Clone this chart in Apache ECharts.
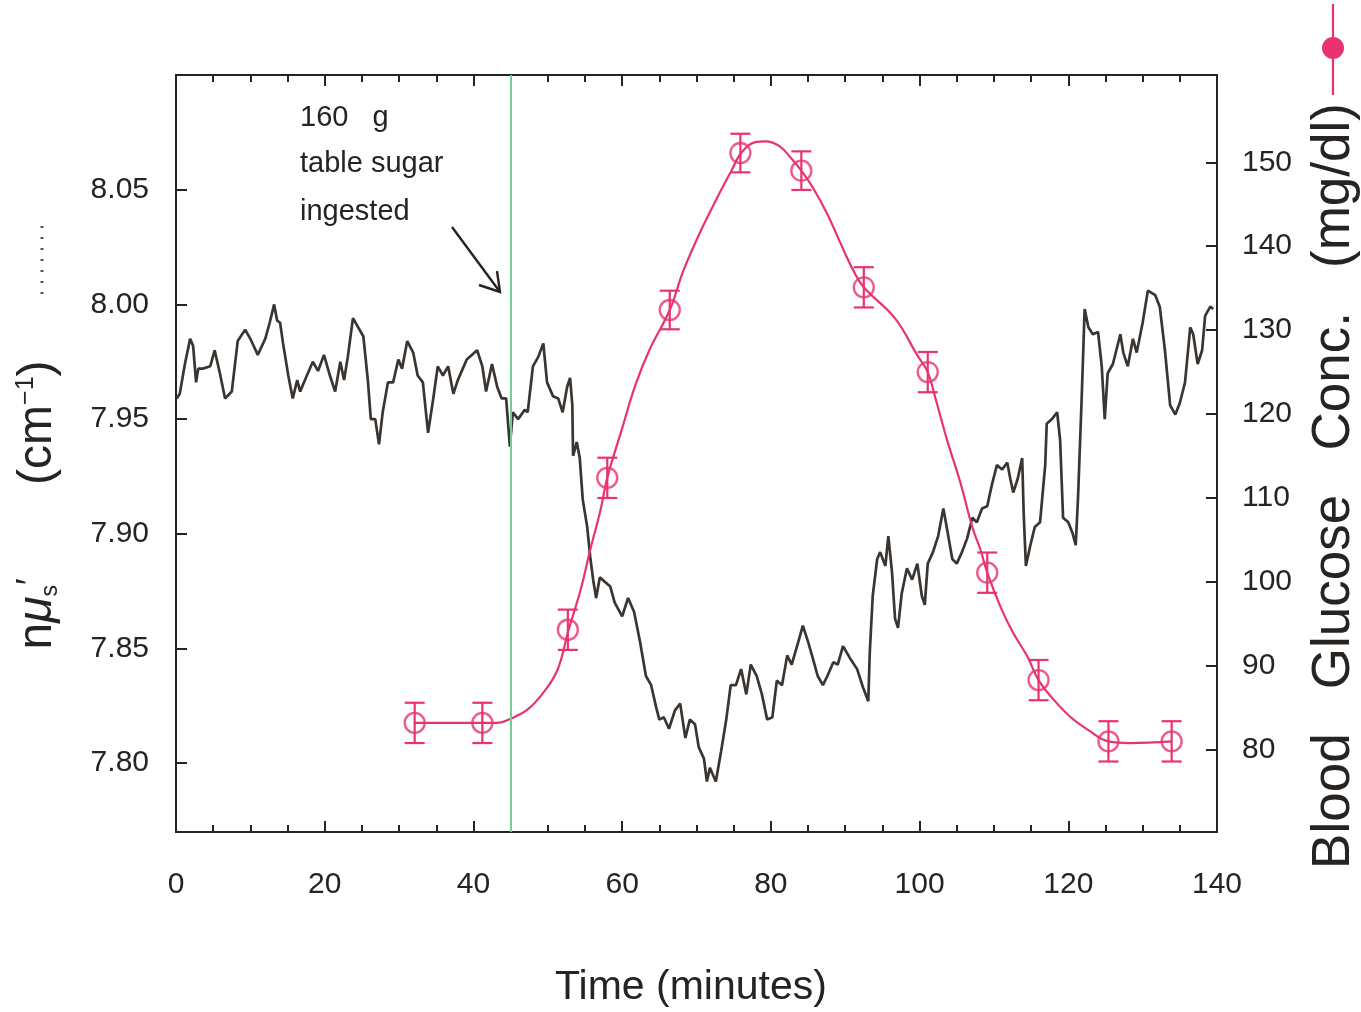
<!DOCTYPE html>
<html>
<head>
<meta charset="utf-8">
<script src="https://cdn.jsdelivr.net/npm/echarts@6/dist/echarts.min.js"></script>
<style>
html,body{margin:0;padding:0;background:#fff;}
#chart{width:1361px;height:1012px;}
</style>
</head>
<body>
<div id="chart"></div>
<script>
// ---- DATA ----
// Scattering trace n*mu_s' (cm^-1) vs time (minutes): [time, value]
const scatterTrace = [
[0.1,7.959],[0.5,7.961],[1.2,7.974],[1.9,7.985],[2.3,7.982],[2.7,7.966],[3.0,7.972],[3.6,7.972],[4.6,7.973],[5.2,7.980],
[5.9,7.970],[6.6,7.959],[7.5,7.962],[8.3,7.984],[9.3,7.989],[10.0,7.985],[11.0,7.978],[12.0,7.985],[12.6,7.992],[13.2,8.000],
[13.6,7.993],[14.0,7.992],[14.4,7.983],[15.1,7.969],[15.7,7.959],[16.3,7.967],[16.7,7.962],[17.6,7.969],[18.4,7.975],[19.1,7.971],
[19.9,7.978],[20.7,7.969],[21.4,7.962],[22.1,7.975],[22.6,7.967],[23.1,7.977],[23.8,7.994],[24.5,7.990],[25.2,7.986],[25.8,7.967],
[26.2,7.950],[26.8,7.950],[27.3,7.939],[27.8,7.953],[28.5,7.966],[29.2,7.966],[29.9,7.976],[30.4,7.972],[31.1,7.984],[31.9,7.979],
[32.5,7.969],[33.2,7.966],[33.9,7.944],[34.6,7.959],[35.2,7.973],[35.9,7.969],[36.6,7.973],[37.3,7.961],[37.9,7.967],[39.1,7.976],
[40.5,7.980],[41.2,7.973],[41.7,7.962],[42.5,7.974],[43.2,7.964],[43.8,7.959],[44.4,7.959],[44.9,7.938],[45.3,7.953],[46.0,7.950],
[46.9,7.954],[47.3,7.953],[48.0,7.973],[48.7,7.977],[49.4,7.983],[49.9,7.966],[50.7,7.960],[51.4,7.959],[52.0,7.953],[52.6,7.964],
[53.0,7.968],[53.3,7.956],[53.4,7.934],[53.9,7.940],[54.3,7.933],[54.7,7.915],[55.3,7.903],[55.7,7.890],[56.1,7.880],[56.5,7.872],
[57.0,7.881],[57.7,7.879],[58.4,7.877],[59.0,7.870],[60.0,7.864],[60.8,7.872],[61.6,7.866],[62.4,7.853],[63.2,7.838],[63.9,7.834],
[64.6,7.824],[65.0,7.819],[65.6,7.820],[66.3,7.815],[67.1,7.823],[67.8,7.826],[68.5,7.811],[69.1,7.819],[69.8,7.817],[70.3,7.807],
[71.0,7.802],[71.4,7.792],[71.8,7.798],[72.6,7.792],[73.3,7.805],[74.0,7.819],[74.6,7.834],[75.3,7.834],[76.0,7.841],[76.7,7.830],
[77.3,7.843],[78.1,7.838],[78.8,7.830],[79.5,7.819],[80.2,7.820],[80.8,7.836],[81.5,7.834],[82.2,7.847],[82.8,7.843],[83.7,7.853],
[84.3,7.860],[85.0,7.853],[85.7,7.845],[86.3,7.838],[87.0,7.834],[87.6,7.838],[88.4,7.844],[89.0,7.843],[89.7,7.851],[90.6,7.846],
[91.6,7.841],[92.4,7.833],[93.1,7.827],[93.3,7.848],[93.7,7.873],[94.3,7.889],[94.7,7.892],[95.4,7.886],[95.8,7.899],[96.3,7.883],
[96.7,7.863],[97.1,7.859],[97.6,7.874],[98.3,7.885],[99.0,7.880],[99.7,7.887],[100.3,7.873],[100.7,7.869],[101.1,7.887],[101.8,7.892],
[102.5,7.899],[103.2,7.911],[103.7,7.902],[104.4,7.889],[105.0,7.887],[105.7,7.892],[106.4,7.898],[107.1,7.907],[107.7,7.905],[108.4,7.911],
[109.1,7.912],[109.7,7.921],[110.4,7.930],[111.1,7.928],[111.8,7.931],[112.2,7.924],[112.6,7.918],[113.2,7.924],[113.8,7.933],[114.0,7.909],
[114.3,7.886],[114.9,7.895],[115.5,7.903],[116.2,7.905],[116.9,7.930],[117.1,7.948],[117.8,7.950],[118.5,7.953],[118.9,7.941],[119.3,7.907],
[120.0,7.905],[120.6,7.900],[121.0,7.895],[121.3,7.915],[121.8,7.959],[122.2,7.998],[122.7,7.990],[123.3,7.987],[124.0,7.988],[124.5,7.973],
[124.9,7.950],[125.3,7.970],[126.0,7.974],[127.0,7.987],[127.4,7.979],[128.0,7.973],[128.7,7.985],[129.2,7.979],[130.0,7.992],[130.7,8.006],
[131.7,8.004],[132.3,7.999],[133.0,7.980],[133.7,7.956],[134.4,7.952],[135.0,7.957],[135.7,7.966],[136.4,7.990],[136.8,7.987],[137.4,7.974],
[138.0,7.980],[138.4,7.995],[139.1,7.999],[139.5,7.998]
];

// Blood glucose measurements (mg/dl): times, values, error (+/-)
const glucoseTimes  = [32.1, 41.2, 52.7, 58.0, 66.4, 75.9, 84.1, 92.5, 101.1, 109.1, 116.0, 125.4, 133.9];
const glucoseValues = [83.2, 83.2, 94.3, 112.4, 132.4, 151.1, 149.0, 135.1, 125.0, 101.1, 88.3, 81.0, 81.0];
const glucoseErrors = [2.4, 2.4, 2.4, 2.4, 2.3, 2.3, 2.3, 2.4, 2.4, 2.4, 2.4, 2.4, 2.4];

// Smooth glucose curve: [time, mg/dl]
const glucoseCurve = [
[32.1,83.2],[41.2,83.2],[43.2,83.2],[45.0,83.7],[47.3,84.8],[49.4,86.8],[51.3,89.5],[52.8,94.3],[54.4,99.0],[55.7,103.8],
[57.1,108.6],[58.0,112.4],[60.0,118.3],[61.8,123.5],[63.7,127.7],[66.4,132.4],[68.2,137.0],[70.5,141.7],[72.8,145.8],[74.7,149.0],
[76.0,151.1],[77.9,152.4],[79.3,152.5],[81.2,151.9],[82.9,150.3],[84.1,149.0],[85.7,146.9],[87.6,143.8],[89.8,139.5],[91.1,137.1],
[92.5,135.1],[96.7,131.4],[99.7,127.0],[101.1,125.0],[102.1,122.0],[103.7,116.9],[105.5,111.8],[107.1,106.5],[108.2,103.8],[109.1,101.1],
[110.9,97.0],[112.6,93.9],[114.5,91.1],[116.0,88.3],[118.0,86.0],[120.3,83.9],[122.6,82.4],[125.4,81.0],[128.3,80.8],[133.9,81.0]
];

// Ticks and annotation
const xTicks = [0, 20, 40, 60, 80, 100, 120, 140];
const leftTicks = [7.80, 7.85, 7.90, 7.95, 8.00, 8.05];
const rightTicks = [80, 90, 100, 110, 120, 130, 140, 150];
const ingestionTime = 45;
const annotationLines = ['160   g', 'table sugar', 'ingested'];

// ---- CHART ----
const FONT = '"Liberation Sans", Arial, Helvetica, sans-serif';
const INK = '#262321';
const PINK = '#e8336e';
const BLACK = '#3a3531';
const GREEN = '#72cf93';

const chart = echarts.init(document.getElementById('chart'), null, {renderer: 'canvas'});

const glucosePoints = glucoseTimes.map((t, i) => [t, glucoseValues[i], glucoseErrors[i]]);

const tickStyle = {color: INK, width: 2};
const option = {
  backgroundColor: '#ffffff',
  animation: false,
  grid: {left: 176, right: 144, top: 75, bottom: 180, show: true, borderColor: INK, borderWidth: 2, backgroundColor: 'transparent'},
  xAxis: [
    {
      type: 'value', min: 0, max: 140, interval: 20, position: 'bottom',
      axisLine: {show: true, onZero: false, lineStyle: tickStyle},
      axisTick: {show: true, inside: true, length: 11, lineStyle: tickStyle},
      minorTick: {show: true, splitNumber: 4, length: 7, lineStyle: tickStyle},
      axisLabel: {color: INK, fontSize: 30, fontFamily: FONT, margin: 38, customValues: xTicks},
      splitLine: {show: false}, minorSplitLine: {show: false}
    },
    {
      type: 'value', min: 0, max: 140, interval: 20, position: 'top',
      axisLine: {show: true, onZero: false, lineStyle: tickStyle},
      axisTick: {show: true, inside: true, length: 11, lineStyle: tickStyle},
      minorTick: {show: true, splitNumber: 4, length: 7, lineStyle: tickStyle},
      axisLabel: {show: false},
      splitLine: {show: false}
    }
  ],
  yAxis: [
    {
      type: 'value', min: 7.770, max: 8.100, position: 'left',
      axisLine: {show: true, onZero: false, lineStyle: tickStyle},
      axisTick: {show: true, inside: true, length: 11, lineStyle: tickStyle, customValues: leftTicks},
      axisLabel: {color: INK, fontSize: 30, fontFamily: FONT, margin: 27, customValues: leftTicks,
                  formatter: v => v.toFixed(2)},
      splitLine: {show: false}
    },
    {
      type: 'value', min: 70.2, max: 160.4, position: 'right',
      axisLine: {show: true, onZero: false, lineStyle: tickStyle},
      axisTick: {show: true, inside: true, length: 11, lineStyle: tickStyle, customValues: rightTicks},
      axisLabel: {color: INK, fontSize: 30, fontFamily: FONT, margin: 25, customValues: rightTicks},
      splitLine: {show: false}
    }
  ],
  series: [
    {
      name: 'scattering', type: 'line', xAxisIndex: 0, yAxisIndex: 0,
      data: scatterTrace, showSymbol: false, symbol: 'none',
      lineStyle: {color: BLACK, width: 2.7}, z: 3,
      markLine: {
        silent: true, symbol: ['none', 'none'], label: {show: false},
        lineStyle: {color: GREEN, width: 2, type: 'solid'},
        data: [{xAxis: ingestionTime}]
      }
    },
    {
      name: 'glucose fit', type: 'line', xAxisIndex: 0, yAxisIndex: 1,
      data: glucoseCurve, smooth: 0.4, showSymbol: false, symbol: 'none',
      lineStyle: {color: PINK, width: 2.2}, z: 4
    },
    {
      name: 'glucose err', type: 'custom', xAxisIndex: 0, yAxisIndex: 1,
      data: glucosePoints, z: 5,
      renderItem: function (params, api) {
        const x = api.value(0), y = api.value(1), e = api.value(2);
        const top = api.coord([x, y + e]);
        const bot = api.coord([x, y - e]);
        const hw = 10;
        const st = {stroke: PINK, lineWidth: 2.2};
        return {type: 'group', children: [
          {type: 'line', shape: {x1: top[0], y1: top[1], x2: bot[0], y2: bot[1]}, style: st},
          {type: 'line', shape: {x1: top[0] - hw, y1: top[1], x2: top[0] + hw, y2: top[1]}, style: st},
          {type: 'line', shape: {x1: bot[0] - hw, y1: bot[1], x2: bot[0] + hw, y2: bot[1]}, style: st}
        ]};
      },
      encode: {x: 0, y: 1}
    },
    {
      name: 'glucose', type: 'scatter', xAxisIndex: 0, yAxisIndex: 1,
      data: glucoseTimes.map((t, i) => [t, glucoseValues[i]]),
      symbol: 'circle', symbolSize: 20,
      itemStyle: {color: 'rgba(255,255,255,0)', borderColor: PINK, borderWidth: 2.4}, z: 6
    }
  ],
  graphic: [
    // annotation text
    {type: 'text', left: 300, top: 103, style: {text: annotationLines[0], font: '29px ' + FONT, fill: INK}},
    {type: 'text', left: 300, top: 149, style: {text: annotationLines[1], font: '29px ' + FONT, fill: INK}},
    {type: 'text', left: 300, top: 197, style: {text: annotationLines[2], font: '29px ' + FONT, fill: INK}},
    // arrow
    {type: 'line', shape: {x1: 452, y1: 227, x2: 500, y2: 292}, style: {stroke: INK, lineWidth: 2.4}},
    {type: 'polyline', shape: {points: [[479, 285], [500, 292], [497, 271]]}, style: {stroke: INK, lineWidth: 2.4, fill: null}},
    // left legend sample (dotted)
    {type: 'line', shape: {x1: 42, y1: 226, x2: 42, y2: 296}, style: {stroke: '#555', lineWidth: 3, lineDash: [2, 9]}},
    // right legend sample (pink line + dot)
    {type: 'line', shape: {x1: 1333, y1: 4, x2: 1333, y2: 95}, style: {stroke: PINK, lineWidth: 2.2}},
    {type: 'circle', shape: {cx: 1333, cy: 48, r: 11}, style: {fill: PINK}},
    // axis titles
    {type: 'text', x: 691, y: 988, style: {text: 'Time (minutes)', font: '41px ' + FONT, fill: INK,
      textAlign: 'center', textVerticalAlign: 'middle', align: 'center', verticalAlign: 'middle'}},
    {type: 'text', x: 1334, y: 486, rotation: Math.PI / 2,
      style: {text: 'Blood   Glucose   Conc.   (mg/dl)', font: '53px ' + FONT, fill: INK,
        textAlign: 'center', textVerticalAlign: 'middle', align: 'center', verticalAlign: 'middle'}},
    {type: 'text', x: 38, y: 505, rotation: Math.PI / 2,
      style: {
        text: 'n{mu|μ}{sub|s}{sup|′}       (cm{sup2|−1})',
        font: '48px ' + FONT, fill: INK,
        textAlign: 'center', textVerticalAlign: 'middle', align: 'center', verticalAlign: 'middle',
        rich: {
          mu: {font: 'italic 48px ' + FONT, fill: INK},
          sub: {font: '23px ' + FONT, fill: INK, verticalAlign: 'bottom'},
          sup: {font: '36px ' + FONT, fill: INK, verticalAlign: 'top'},
          sup2: {font: '25px ' + FONT, fill: INK, verticalAlign: 'top'}
        }
      }}
  ]
};

chart.setOption(option);
</script>
</body>
</html>
